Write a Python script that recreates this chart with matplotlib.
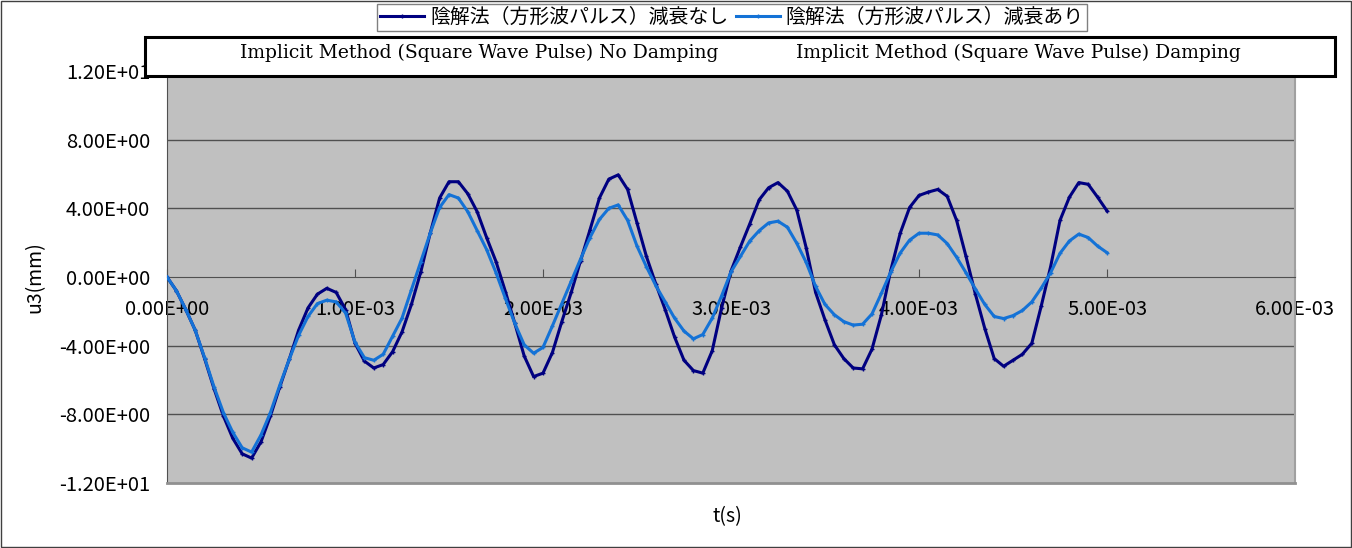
import numpy as np
import matplotlib
matplotlib.use("Agg")
import matplotlib.pyplot as plt
from matplotlib.patches import Rectangle

# time axis (s), 0.05 ms step
t = np.linspace(0, 5e-3, 101)

# u3 (mm)
u_no_damp = [
    0.0, -0.8, -1.9, -3.1, -4.75, -6.5, -8.1, -9.4, -10.3, -10.55,
    -9.6, -8.1, -6.4, -4.8, -3.1, -1.8, -1.0, -0.66, -0.9, -1.9,
    -3.86, -4.9, -5.3, -5.1, -4.35, -3.2, -1.6, 0.3, 2.55, 4.6,
    5.55, 5.55, 4.85, 3.8, 2.3, 0.9, -0.85, -2.7, -4.6, -5.8,
    -5.6, -4.4, -2.6, -0.9, 0.95, 2.75, 4.6, 5.7, 5.95, 5.1,
    3.15, 1.2, -0.4, -1.9, -3.5, -4.85, -5.45, -5.6, -4.3, -1.8,
    0.35, 1.75, 3.1, 4.5, 5.2, 5.5, 5.0, 3.9, 1.7, -0.9,
    -2.5, -3.95, -4.75, -5.3, -5.35, -4.2, -2.2, 0.4, 2.55, 4.05,
    4.75, 4.95, 5.1, 4.7, 3.3, 1.2, -1.0, -3.0, -4.75, -5.2,
    -4.85, -4.5, -3.86, -1.7, 0.6, 3.3, 4.65, 5.5, 5.4, 4.65,
    3.85,
]
u_damp = [
    0.0, -0.8, -1.9, -3.1, -4.7, -6.4, -7.9, -9.05, -9.95, -10.2,
    -9.2, -7.9, -6.3, -4.8, -3.4, -2.3, -1.55, -1.35, -1.45, -2.1,
    -3.8, -4.7, -4.85, -4.5, -3.45, -2.4, -0.75, 0.9, 2.55, 4.05,
    4.8, 4.6, 3.8, 2.7, 1.6, 0.25, -1.25, -2.7, -3.95, -4.44,
    -4.1, -2.85, -1.55, -0.25, 1.05, 2.3, 3.35, 4.0, 4.2, 3.3,
    1.8, 0.6, -0.5, -1.45, -2.4, -3.15, -3.6, -3.35, -2.4, -1.1,
    0.3, 1.2, 2.1, 2.7, 3.15, 3.25, 2.9, 1.96, 0.85, -0.55,
    -1.6, -2.2, -2.6, -2.8, -2.75, -2.15, -0.95, 0.3, 1.4, 2.15,
    2.55, 2.55, 2.45, 1.95, 1.15, 0.25, -0.7, -1.6, -2.3, -2.42,
    -2.25, -1.95, -1.45, -0.65, 0.25, 1.38, 2.1, 2.5, 2.3, 1.8,
    1.42,
]

legend_labels = ["陰解法（方形波パルス）減衰なし", "陰解法（方形波パルス）減衰あり"]
en_labels = ["Implicit Method (Square Wave Pulse) No Damping",
             "Implicit Method (Square Wave Pulse) Damping"]
x_ticks = [0, 1e-3, 2e-3, 3e-3, 4e-3, 5e-3, 6e-3]
y_ticks = [-12, -8, -4, 0, 4, 8, 12]

jp = ["Noto Sans CJK JP", "DejaVu Sans"]

W, H = 1352, 548
fig = plt.figure(figsize=(W / 100, H / 100), dpi=100)
ax = fig.add_axes([167 / W, (H - 483) / H, 1128 / W, 412 / H])
ax.set_facecolor("#c0c0c0")

for y in [-8, -4, 4, 8]:
    ax.axhline(y, color="#505050", lw=1.0, zorder=1)

ax.plot(t, u_no_damp, color="#000080", lw=2.2, marker="+", ms=3, mew=1,
        label=legend_labels[0], zorder=3)
ax.plot(t, u_damp, color="#1472d6", lw=2.2, marker="+", ms=3, mew=1,
        label=legend_labels[1], zorder=4)

ax.set_xlim(0, 6e-3)
ax.set_ylim(-12, 12)

ax.spines["bottom"].set_position(("data", 0))
ax.spines["bottom"].set_color("#505050")
ax.spines["left"].set_color("#505050")
ax.spines["right"].set_color("#a0a0a0")
ax.spines["right"].set_linewidth(1.5)
ax.spines["top"].set_visible(False)
ax.axhline(-12, color="#909090", lw=2, zorder=5, clip_on=False)

ax.set_xticks(x_ticks)
ax.set_xticklabels(["{:.2E}".format(v) for v in x_ticks], family=jp, fontsize=14.5)
ax.set_yticks(y_ticks)
ax.set_yticklabels(["{:.2E}".format(v) for v in y_ticks], family=jp, fontsize=14.5)
ax.tick_params(axis="x", direction="in", length=6, color="#505050", pad=16)
ax.tick_params(axis="y", length=0, pad=12)

fig.text(35 / W, 1 - 277 / H, "u3(mm)", rotation=90, ha="center", va="center",
         family=jp, fontsize=14)
fig.text(727 / W, 1 - 517 / H, "t(s)", ha="center", va="center",
         family=jp, fontsize=14)

leg = fig.legend(loc="upper center", bbox_to_anchor=(732 / W, 1 - 4 / H), ncol=2,
                 prop={"family": jp, "size": 14.3}, frameon=True, fancybox=False,
                 edgecolor="#808080", framealpha=1, borderpad=0.15,
                 handlelength=2.2, handletextpad=0.3, columnspacing=0.4,
                 borderaxespad=0)
leg.get_frame().set_linewidth(1)

# english caption box
box = Rectangle((145 / W, 1 - 76 / H), 1190 / W, 39 / H, transform=fig.transFigure,
                facecolor="white", edgecolor="black", lw=2.2, zorder=6)
fig.patches.append(box)
fig.text(479 / W, 1 - 53 / H, en_labels[0], ha="center", va="center",
         family="DejaVu Serif", fontsize=13.5, zorder=7)
fig.text(1018 / W, 1 - 53 / H, en_labels[1], ha="center", va="center",
         family="DejaVu Serif", fontsize=13.5, zorder=7)

# outer border
fig.patches.append(Rectangle((0.0005, 0.001), 0.999, 0.998, transform=fig.transFigure,
                             fill=False, edgecolor="#404040", lw=1, zorder=8))

fig.savefig("out.png", dpi=100)
